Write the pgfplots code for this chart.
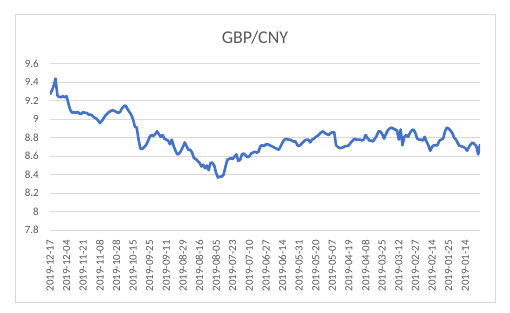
\documentclass[border=0pt]{standalone}
\usepackage{fontspec}
\setmainfont{Carlito}
\usepackage{pgfplots}
\pgfplotsset{compat=1.18}
\definecolor{exblue}{RGB}{68,114,196}
\definecolor{gridgray}{RGB}{217,217,217}
\definecolor{txtgray}{RGB}{89,89,89}
\begin{document}
\begin{tikzpicture}[x=1bp,y=1bp]
\useasboundingbox (0,0) rectangle (510,312);
\fill[white] (0,0) rectangle (510,312);
\draw[gridgray, line width=0.8bp] (15.5,10) rectangle (495,298);
\node[anchor=base, text=txtgray, font=\fontsize{18}{20}\selectfont] at (255,268.7) {GBP/CNY};
\begin{axis}[
  at={(50bp,81.8bp)}, anchor=south west,
  scale only axis, width=430bp, height=166.3bp,
  xmin=0, xmax=233, ymin=7.8, ymax=9.6,
  ytick={7.8,8,8.2,8.4,8.6,8.8,9,9.2,9.4,9.6},
  xtick={0,9,18,27,36,45,54,63,72,81,90,99,108,117,126,135,144,153,162,171,180,189,198,207,216,225},
  xticklabels={2019-12-17,2019-12-04,2019-11-21,2019-11-08,2019-10-28,2019-10-15,2019-09-25,2019-09-11,2019-08-29,2019-08-16,2019-08-05,2019-07-23,2019-07-10,2019-06-27,2019-06-14,2019-05-31,2019-05-20,2019-05-07,2019-04-19,2019-04-08,2019-03-25,2019-03-12,2019-02-27,2019-02-14,2019-01-25,2019-01-14},
  axis line style={draw=none},
  major tick length=0pt,
  ymajorgrids, grid style={gridgray, line width=0.8bp},
  /pgf/number format/assume math mode=true,
  tick label style={text=txtgray, font=\fontsize{11}{13}\selectfont},
  xticklabel style={rotate=90, anchor=east, inner xsep=10bp, inner ysep=0pt},
  yticklabel style={anchor=east, inner xsep=11bp},
]
\addplot[exblue, line width=2.6bp, line join=round, mark=none] table[x index=0, y index=1] {
0 9.27
1 9.31
2 9.36
3 9.44
4 9.26
5 9.24
6 9.24
7 9.25
8 9.24
9 9.25
10 9.17
11 9.10
12 9.07
13 9.08
14 9.07
15 9.08
16 9.06
17 9.06
18 9.08
19 9.07
20 9.07
21 9.05
22 9.05
23 9.04
24 9.02
25 9.01
26 8.99
27 8.96
28 8.98
29 9.01
30 9.04
31 9.06
32 9.08
33 9.09
34 9.10
35 9.09
36 9.08
37 9.07
38 9.08
39 9.12
40 9.14
41 9.15
42 9.11
43 9.08
44 9.05
45 9.00
46 8.92
47 8.91
48 8.78
49 8.68
50 8.68
51 8.70
52 8.72
53 8.76
54 8.81
55 8.83
56 8.82
57 8.84
58 8.87
59 8.84
60 8.81
61 8.83
62 8.79
63 8.78
64 8.77
65 8.73
66 8.78
67 8.71
68 8.66
69 8.62
70 8.63
71 8.66
72 8.70
73 8.75
74 8.71
75 8.67
76 8.67
77 8.64
78 8.58
79 8.57
80 8.55
81 8.53
82 8.49
83 8.51
84 8.47
85 8.50
86 8.45
87 8.53
88 8.53
89 8.50
90 8.42
91 8.37
92 8.38
93 8.38
94 8.40
95 8.48
96 8.56
97 8.57
98 8.58
99 8.57
100 8.60
101 8.62
102 8.55
103 8.56
104 8.62
105 8.63
106 8.61
107 8.59
108 8.60
109 8.63
110 8.64
111 8.65
112 8.64
113 8.65
114 8.71
115 8.72
116 8.71
117 8.73
118 8.73
119 8.72
120 8.71
121 8.70
122 8.69
123 8.68
124 8.67
125 8.71
126 8.75
127 8.78
128 8.79
129 8.78
130 8.78
131 8.77
132 8.76
133 8.76
134 8.72
135 8.71
136 8.73
137 8.75
138 8.77
139 8.78
140 8.78
141 8.75
142 8.78
143 8.79
144 8.81
145 8.82
146 8.84
147 8.86
148 8.87
149 8.85
150 8.84
151 8.83
152 8.85
153 8.86
154 8.86
155 8.72
156 8.70
157 8.69
158 8.69
159 8.70
160 8.71
161 8.71
162 8.72
163 8.75
164 8.77
165 8.79
166 8.78
167 8.78
168 8.78
169 8.77
170 8.78
171 8.83
172 8.80
173 8.77
174 8.77
175 8.76
176 8.79
177 8.82
178 8.87
179 8.87
180 8.84
181 8.79
182 8.84
183 8.88
184 8.90
185 8.91
186 8.90
187 8.89
188 8.88
189 8.78
190 8.89
191 8.72
192 8.81
193 8.83
194 8.81
195 8.85
196 8.88
197 8.89
198 8.85
199 8.79
200 8.78
201 8.78
202 8.77
203 8.81
204 8.76
205 8.72
206 8.66
207 8.70
208 8.72
209 8.72
210 8.72
211 8.77
212 8.78
213 8.79
214 8.87
215 8.91
216 8.90
217 8.88
218 8.85
219 8.80
220 8.78
221 8.74
222 8.71
223 8.71
224 8.70
225 8.69
226 8.66
227 8.70
228 8.73
229 8.75
230 8.73
231 8.71
232 8.62
233 8.73
};
\end{axis}
\end{tikzpicture}
\end{document}
